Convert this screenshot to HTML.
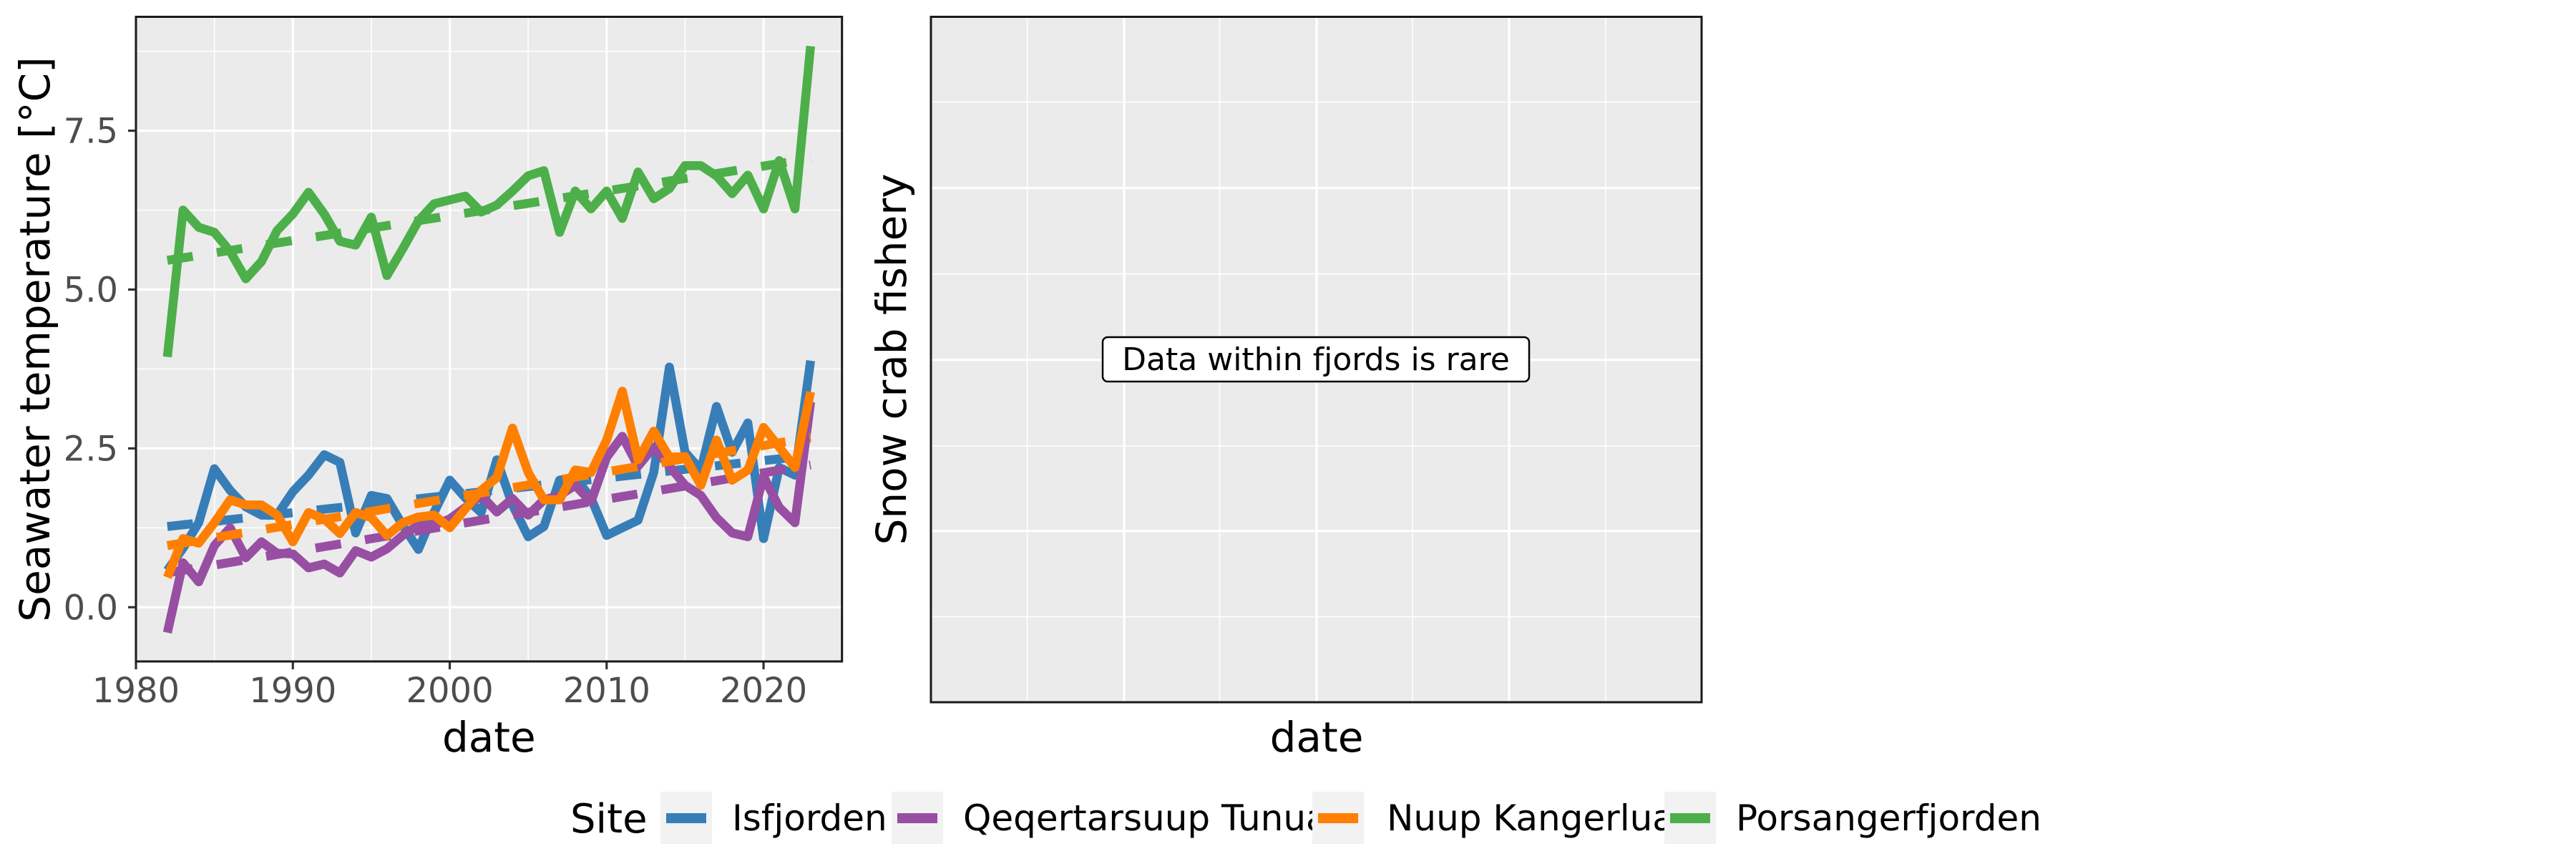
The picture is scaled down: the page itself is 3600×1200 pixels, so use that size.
<!DOCTYPE html>
<html><head><meta charset="utf-8">
<style>
html,body{margin:0;padding:0;background:#fff;}
svg{display:block;font-family:"DejaVu Sans","Liberation Sans",sans-serif;}
</style></head>
<body>
<svg id="chart" width="3600" height="1200" viewBox="0 0 3600 1200" xmlns="http://www.w3.org/2000/svg">
<rect x="0" y="0" width="3600" height="1200" fill="#fff"/>
<g id="left"></g>
<g id="right"></g>
<g id="legend"></g>
</svg>
<script>
const years = [1982,1983,1984,1985,1986,1987,1988,1989,1990,1991,1992,1993,1994,1995,1996,1997,1998,1999,2000,2001,2002,2003,2004,2005,2006,2007,2008,2009,2010,2011,2012,2013,2014,2015,2016,2017,2018,2019,2020,2021,2022,2023];
const isfjorden = [0.58,0.93,1.33,2.18,1.84,1.58,1.45,1.45,1.82,2.08,2.40,2.28,1.17,1.76,1.71,1.29,0.91,1.49,2.00,1.72,1.49,2.32,1.61,1.11,1.27,2.00,2.04,1.72,1.13,1.25,1.37,2.12,3.78,2.44,2.16,3.16,2.44,2.90,1.08,2.20,2.08,3.88];
const qeqertarsuup = [-0.40,0.70,0.40,0.97,1.25,0.78,1.03,0.85,0.84,0.62,0.68,0.54,0.89,0.79,0.92,1.13,1.29,1.29,1.39,1.57,1.76,1.50,1.71,1.45,1.69,1.76,1.92,1.66,2.36,2.69,2.22,2.52,2.22,1.92,1.76,1.41,1.17,1.11,2.06,1.57,1.33,3.23];
const nuup = [0.47,1.08,1.01,1.33,1.69,1.61,1.61,1.45,1.03,1.49,1.39,1.16,1.49,1.41,1.13,1.33,1.42,1.45,1.25,1.55,1.84,2.04,2.82,2.12,1.69,1.69,2.16,2.12,2.63,3.40,2.32,2.77,2.36,2.37,1.92,2.63,2.00,2.16,2.83,2.52,2.20,3.39];
const porsanger = [3.94,6.25,5.98,5.90,5.60,5.17,5.44,5.93,6.19,6.53,6.19,5.76,5.70,6.14,5.22,5.64,6.08,6.35,6.41,6.47,6.22,6.33,6.55,6.79,6.87,5.90,6.55,6.27,6.55,6.12,6.85,6.43,6.59,6.95,6.95,6.79,6.51,6.80,6.27,7.03,6.27,8.83];
const trendStart = [1.27,0.54,0.97,5.46];
const trendEnd = [2.39,2.24,2.67,7.06];
const siteNames = ["Isfjorden","Qeqertarsuup Tunua","Nuup Kangerlua","Porsangerfjorden"];
const siteColors = ["#377EB8","#984EA3","#FF7F00","#4DAF4A"];
const xTicks = [1980,1990,2000,2010,2020];
const yTicks = [0,2.5,5,7.5];
const yTickLabels = ["0.0","2.5","5.0","7.5"];

const NS = "http://www.w3.org/2000/svg";
function mk(tag, attrs, parent){ const e=document.createElementNS(NS,tag); for(const k in attrs) e.setAttribute(k,attrs[k]); parent.appendChild(e); return e; }

const L = {x0:190, x1:1176.7, y0:23.5, y1:924};
const xMin=1980, xMax=2025;
function X(v){ return L.x0 + (v-xMin)/(xMax-xMin)*(L.x1-L.x0); }
function Y(v){ return 848.3 - v*88.76; }

const left = document.getElementById('left');
const bg = mk('rect',{x:L.x0,y:L.y0,width:L.x1-L.x0,height:L.y1-L.y0,fill:'#EBEBEB'},left);


[1.25,3.75,6.25,8.75].forEach(v=>{ const g=mk('line',{x1:L.x0,x2:L.x1,y1:Y(v),y2:Y(v),stroke:'#fff','stroke-width':1.6},left);

 });
[1985,1995,2005,2015].forEach(v=>{ const g=mk('line',{x1:X(v),x2:X(v),y1:L.y0,y2:L.y1,stroke:'#fff','stroke-width':1.6},left);

 });
yTicks.forEach((v,i)=>{
  const g=mk('line',{x1:L.x0,x2:L.x1,y1:Y(v),y2:Y(v),stroke:'#fff','stroke-width':3.2},left);
  
  
  const t=mk('line',{x1:L.x0-11,x2:L.x0,y1:Y(v),y2:Y(v),stroke:'#333','stroke-width':3.2},left);
  
  
  const tx=mk('text',{x:165,y:Y(v)+17,'text-anchor':'end','font-size':48,fill:'#4D4D4D'},left);
  tx.textContent=yTickLabels[i];
  
  
});
xTicks.forEach(v=>{
  const g=mk('line',{x1:X(v),x2:X(v),y1:L.y0,y2:L.y1,stroke:'#fff','stroke-width':3.2},left);
  
  
  const t=mk('line',{x1:X(v),x2:X(v),y1:L.y1,y2:L.y1+11,stroke:'#333','stroke-width':3.2},left);
  
  
  const tx=mk('text',{x:X(v),y:981,'text-anchor':'middle','font-size':48,fill:'#4D4D4D'},left);
  tx.textContent=String(v);
  
  
});
const defs=mk('defs',{},left);
const cp=mk('clipPath',{id:'clipL'},defs);
mk('rect',{x:L.x0,y:L.y0,width:L.x1-L.x0,height:L.y1-L.y0},cp);
const plotG=mk('g',{'clip-path':'url(#clipL)'},left);


const series=[isfjorden,qeqertarsuup,nuup,porsanger];
const seriesKeys=['isfjorden','qeqertarsuup-tunua','nuup-kangerlua','porsangerfjorden'];
series.forEach((arr,s)=>{
  const pts=arr.map((v,i)=>X(years[i]).toFixed(1)+','+Y(v).toFixed(1)).join(' ');
  const pl=mk('polyline',{points:pts,fill:'none',stroke:siteColors[s],'stroke-width':12.5,'stroke-linejoin':'round','stroke-linecap':'butt'},plotG);
  
  
  const tl=mk('line',{x1:X(years[0]),y1:Y(trendStart[s]),x2:X(years[years.length-1]),y2:Y(trendEnd[s]),stroke:siteColors[s],'stroke-width':12.5,'stroke-dasharray':'36 34'},plotG);
  
  
});
const bL=mk('rect',{x:L.x0,y:L.y0,width:L.x1-L.x0,height:L.y1-L.y0,fill:'none',stroke:'#1a1a1a','stroke-width':3},left);


const xt=mk('text',{x:(L.x0+L.x1)/2,y:1050,'text-anchor':'middle','font-size':58,fill:'#000'},left);
xt.textContent='date';


const yt=mk('text',{x:0,y:0,'text-anchor':'middle','font-size':58,fill:'#000',transform:'translate(69,474) rotate(-90)'},left);
yt.textContent='Seawater temperature [°C]';



const R={x0:1301,x1:2378,y0:23.5,y1:981};
const right=document.getElementById('right');
const bgR=mk('rect',{x:R.x0,y:R.y0,width:R.x1-R.x0,height:R.y1-R.y0,fill:'#EBEBEB'},right);


[142.6,382.7,622.9,861.6].forEach(y=>{ const g=mk('line',{x1:R.x0,x2:R.x1,y1:y,y2:y,stroke:'#fff','stroke-width':1.6},right);

 });
[1435.6,1704.5,1974,2244].forEach(x=>{ const g=mk('line',{x1:x,x2:x,y1:R.y0,y2:R.y1,stroke:'#fff','stroke-width':1.6},right);

 });
[262.6,502.8,741.6].forEach(y=>{ const g=mk('line',{x1:R.x0,x2:R.x1,y1:y,y2:y,stroke:'#fff','stroke-width':3.2},right);

 });
[1571,1840,2109].forEach(x=>{ const g=mk('line',{x1:x,x2:x,y1:R.y0,y2:R.y1,stroke:'#fff','stroke-width':3.2},right);

 });
const bR=mk('rect',{x:R.x0,y:R.y0,width:R.x1-R.x0,height:R.y1-R.y0,fill:'none',stroke:'#1a1a1a','stroke-width':3},right);


const ab=mk('rect',{x:1541,y:471,width:596,height:62,rx:7,ry:7,fill:'#fff',stroke:'#000','stroke-width':2.5},right);


const at=mk('text',{x:1839,y:517,'text-anchor':'middle','font-size':44,fill:'#000'},right);
at.textContent='Data within fjords is rare';


const rxt=mk('text',{x:1840,y:1050,'text-anchor':'middle','font-size':58,fill:'#000'},right);
rxt.textContent='date';


const ryt=mk('text',{x:0,y:0,'text-anchor':'middle','font-size':58,fill:'#000',transform:'translate(1266,502) rotate(-90)'},right);
ryt.textContent='Snow crab fishery';



const leg=document.getElementById('legend');
const lt=mk('text',{x:797,y:1163,'font-size':56,fill:'#000'},leg);
lt.textContent='Site';


const keyX=[923,1246,1834,2326];
const textX=[1023,1346,1938,2426];
siteNames.forEach((n,i)=>{
  const k=mk('rect',{x:keyX[i],y:1106,width:72,height:73,fill:'#F2F2F2'},leg);
  
  
  const kl=mk('line',{x1:keyX[i]+8,x2:keyX[i]+64,y1:1143,y2:1143,stroke:siteColors[i],'stroke-width':14},leg);
  
  
  const t=mk('text',{x:textX[i],y:1160,'font-size':50,fill:'#000'},leg);
  t.textContent=n;
  
  
});
</script>
</body></html>
